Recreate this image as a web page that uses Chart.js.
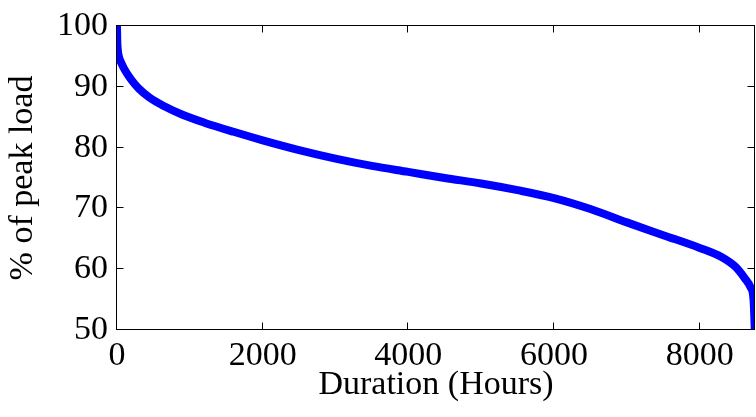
<!DOCTYPE html>
<html>
<head>
<meta charset="utf-8">
<script src="https://cdn.jsdelivr.net/npm/chart.js@4/dist/chart.umd.min.js"></script>
<style>
  html, body { margin: 0; padding: 0; background: #ffffff; }
  #wrap { width: 756px; height: 417px; }
</style>
</head>
<body>
<div id="wrap"><canvas id="c" width="756" height="417"></canvas></div>
<script>
// Load duration curve data
const hours = [0, 3, 10, 25, 60, 120, 200, 300, 450, 650, 900, 1200, 1600, 2000, 2500, 3000, 3500, 4000, 4500, 5000, 5500, 6000, 6500, 7000, 7500, 8000, 8300, 8500, 8620, 8700, 8740, 8760];
const peakLoadPct = [100, 97.8, 96.2, 95.0, 93.9, 92.5, 91.1, 89.7, 88.2, 86.8, 85.4, 84.1, 82.6, 81.2, 79.6, 78.2, 77.0, 76.0, 75.0, 74.1, 73.0, 71.7, 69.9, 67.7, 65.6, 63.5, 62.0, 60.3, 58.5, 57.0, 55.0, 49.0];
const xTickValues = [0, 2000, 4000, 6000, 8000];
const yTickValues = [50, 60, 70, 80, 90, 100];
const xLabel = 'Duration (Hours)';
const yLabel = '% of peak load';

const FONT = "'Liberation Serif', 'Times New Roman', serif";

const points = hours.map((h, i) => ({ x: h, y: peakLoadPct[i] }));

const framePlugin = {
  id: 'frame',
  afterDatasetsDraw(chart) {
    const { ctx, chartArea: a, scales } = chart;
    const L = Math.round(a.left) - 0.5, R = Math.round(a.right) - 0.5;
    const T = Math.round(a.top) - 0.5, B = Math.round(a.bottom) - 0.5;
    ctx.save();
    ctx.strokeStyle = '#000';
    ctx.lineWidth = 1;
    ctx.strokeRect(L, T, R - L, B - T);
    const tl = 7;
    ctx.beginPath();
    scales.x.ticks.forEach(t => {
      const px = Math.round(scales.x.getPixelForValue(t.value)) - 0.5;
      ctx.moveTo(px, B); ctx.lineTo(px, B - tl);
      ctx.moveTo(px, T); ctx.lineTo(px, T + tl);
    });
    scales.y.ticks.forEach(t => {
      const py = Math.round(scales.y.getPixelForValue(t.value)) - 0.5;
      ctx.moveTo(L, py); ctx.lineTo(L + tl, py);
      ctx.moveTo(R, py); ctx.lineTo(R - tl, py);
    });
    ctx.stroke();
    ctx.restore();
  }
};

new Chart(document.getElementById('c'), {
  type: 'line',
  data: {
    datasets: [{
      data: points,
      borderColor: '#0000ff',
      borderWidth: 8,
      pointRadius: 0,
      fill: false,
      cubicInterpolationMode: 'monotone',
      clip: 0
    }]
  },
  options: {
    responsive: false,
    animation: false,
    devicePixelRatio: 1,
    layout: { padding: { top: 18, right: 1, left: 0, bottom: 0 } },
    plugins: { legend: { display: false }, tooltip: { enabled: false } },
    scales: {
      x: {
        type: 'linear',
        min: 0,
        max: 8760,
        grid: { display: false, drawTicks: false },
        border: { display: false },
        afterBuildTicks: s => { s.ticks = xTickValues.map(v => ({ value: v })); },
        afterFit: s => { s.height = 87; },
        ticks: {
          color: '#000',
          padding: 9,
          maxRotation: 0,
          font: { family: FONT, size: 34, lineHeight: 1 },
          callback: v => String(v)
        },
        title: {
          display: true,
          text: xLabel,
          color: '#000',
          font: { family: FONT, size: 34, lineHeight: 1.2 },
          padding: { top: 0, bottom: 12 }
        }
      },
      y: {
        type: 'linear',
        min: 50,
        max: 100,
        grid: { display: false, drawTicks: false },
        border: { display: false },
        afterBuildTicks: s => { s.ticks = yTickValues.map(v => ({ value: v })); },
        afterFit: s => { s.width = 117; },
        ticks: {
          color: '#000',
          padding: 9,
          font: { family: FONT, size: 34, lineHeight: 1 },
          callback: v => String(v)
        },
        title: {
          display: true,
          text: yLabel,
          color: '#000',
          font: { family: FONT, size: 34, lineHeight: 1.2 },
          padding: { top: 3, bottom: 0 }
        }
      }
    }
  },
  plugins: [framePlugin]
});
</script>
</body>
</html>
